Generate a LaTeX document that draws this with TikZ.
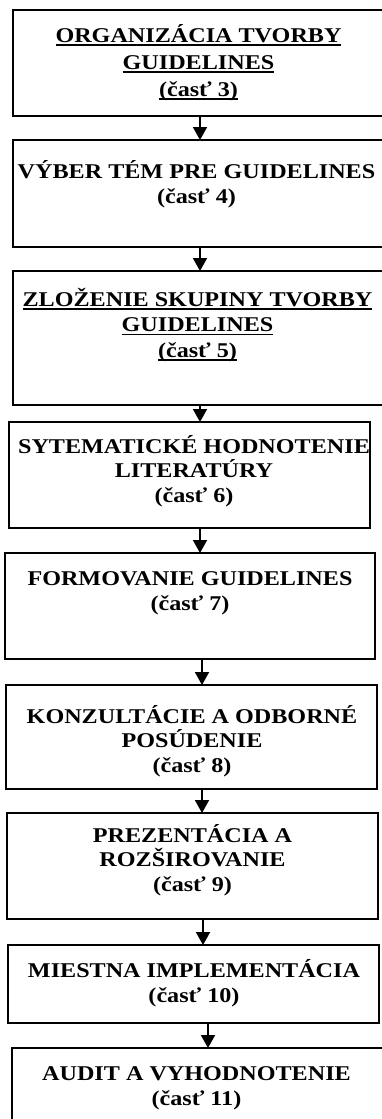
\documentclass[tikz,border=0pt]{standalone}
\usepackage{fontspec}
\setmainfont{Liberation Serif}[FakeStretch=1.15]
\usepackage{tikz}
\usetikzlibrary{arrows.meta}
\newcommand{\ulline}[1]{\setbox0\hbox{#1}\rlap{\rule[-3.6pt]{\wd0}{1.6pt}}\box0}

\begin{document}
\begin{tikzpicture}[x=1pt, y=-1pt,
            box/.style={draw, line width=2.2pt, rectangle, inner sep=0pt, outer sep=0pt},
            txt/.style={align=center, inner sep=0pt, anchor=base, font=\fontsize{21}{24.5}\selectfont\bfseries},
            arr/.style={-{Triangle[width=14pt,length=13pt]}, line width=2pt}
            ]
            \path[use as bounding box, fill=white] (0,0) rectangle (381,1119);

            % Boxes with manual coordinates
            \node[box, minimum width=371pt, minimum height=106pt] (b1) at (198.5,63) {};
            \node[box, minimum width=371pt, minimum height=107pt] (b2) at (198.5,193.5) {};
            \node[box, minimum width=371pt, minimum height=134pt] (b3) at (198.5,338) {};
            \node[box, minimum width=361pt, minimum height=106pt] (b4) at (189.5,475) {};
            \node[box, minimum width=370pt, minimum height=106pt] (b5) at (190,606) {};
            \node[box, minimum width=371pt, minimum height=104pt] (b6) at (191.5,737) {};
            \node[box, minimum width=371pt, minimum height=106pt] (b7) at (192.5,866) {};
            \node[box, minimum width=371pt, minimum height=78pt] (b8) at (193.5,984) {};
            \node[box, minimum width=372pt, minimum height=80pt] (b9) at (198,1088) {};

            % Texts (anchored at the baseline of their last line)
            \node[txt, font=\fontsize{21}{27}\selectfont\bfseries] (t1) at (198.5,96) {\ulline{ORGANIZÁCIA TVORBY}\\\ulline{GUIDELINES}\\\ulline{(časť 3)}};
            \node[txt] (t2) at (196.5,203) {VÝBER TÉM PRE GUIDELINES\\(časť 4)};
            \node[txt, font=\fontsize{21}{25.5}\selectfont\bfseries] (t3) at (197.5,357) {\ulline{ZLOŽENIE SKUPINY TVORBY}\\\ulline{GUIDELINES}\\\ulline{(časť 5)}};
            \node[txt] (t4) at (194,502) {SYTEMATICKÉ HODNOTENIE\\LITERATÚRY\\(časť 6)};
            \node[txt] (t5) at (190,610) {FORMOVANIE GUIDELINES\\(časť 7)};
            \node[txt] (t6) at (192,772) {KONZULTÁCIE A ODBORNÉ\\POSÚDENIE\\(časť 8)};
            \node[txt] (t7) at (192.5,891) {PREZENTÁCIA A\\ROZŠIROVANIE\\(časť 9)};
            \node[txt] (t8) at (194,1002) {MIESTNA IMPLEMENTÁCIA\\(časť 10)};
            \node[txt] (t9) at (196.5,1105) {AUDIT A VYHODNOTENIE\\(časť 11)};

            % Arrows
            \foreach \a/\b/\x in {b1/b2/200, b2/b3/200, b3/b4/200, b4/b5/200, b5/b6/202, b6/b7/202, b7/b8/203, b8/b9/208}
                \draw[arr] (\a.south -| \x,0) -- (\b.north -| \x,0);
        \end{tikzpicture}
\end{document}
